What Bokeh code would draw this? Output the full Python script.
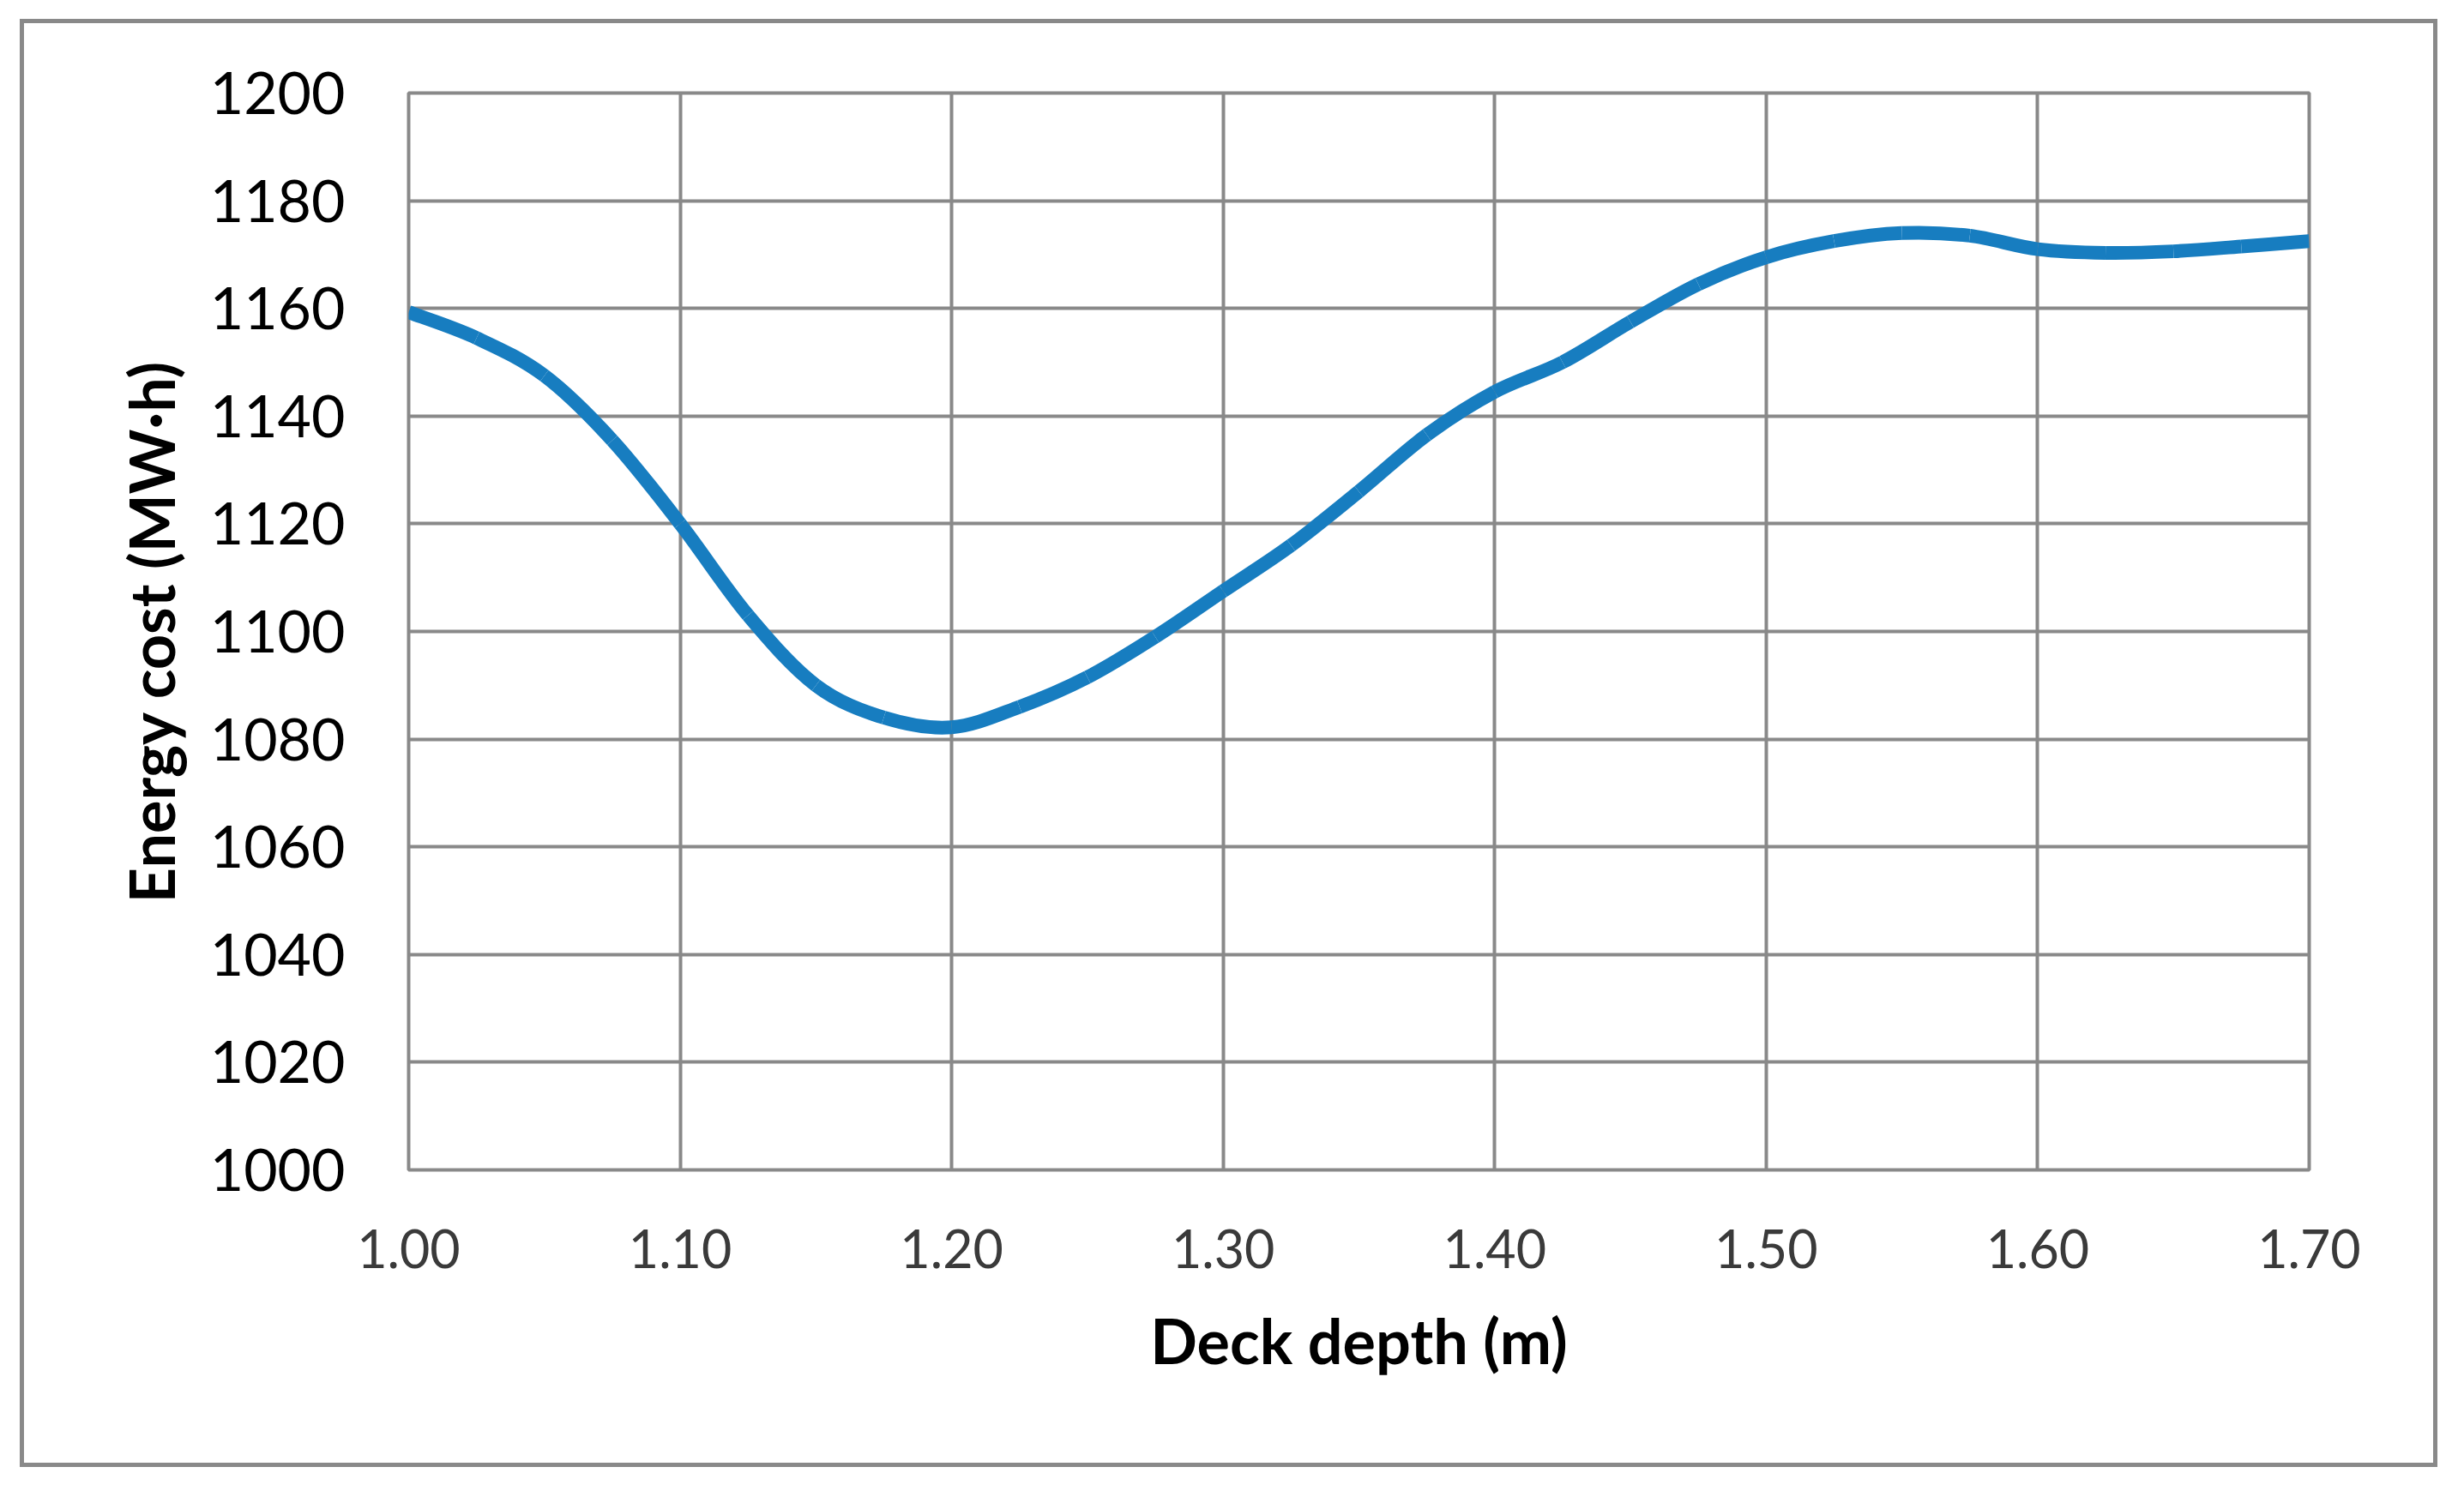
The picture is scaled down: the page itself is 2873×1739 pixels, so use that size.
from bokeh.plotting import figure
from bokeh.models import FixedTicker, NumeralTickFormatter, ColumnDataSource
from bokeh.embed import file_html
from bokeh.resources import INLINE

# ---- data ----
deck_depth = [1.000, 1.025, 1.050, 1.075, 1.100, 1.125, 1.150, 1.175, 1.200,
              1.225, 1.250, 1.275, 1.300, 1.325, 1.350, 1.375, 1.400, 1.425,
              1.450, 1.475, 1.500, 1.525, 1.550, 1.575, 1.600, 1.625, 1.650,
              1.675, 1.700]
energy_cost = [1159.3, 1154.5, 1147.5, 1135.5, 1120.0, 1103.0, 1090.0, 1084.0, 1082.2,
               1086.0, 1091.5, 1099.0, 1107.5, 1116.0, 1126.0, 1136.5, 1144.5, 1150.0,
               1157.5, 1164.5, 1169.5, 1172.5, 1174.0, 1173.5, 1171.0, 1170.3, 1170.6,
               1171.5, 1172.5]

x_ticks = [1.0, 1.1, 1.2, 1.3, 1.4, 1.5, 1.6, 1.7]
y_ticks = [1000, 1020, 1040, 1060, 1080, 1100, 1120, 1140, 1160, 1180, 1200]

x_title = "Deck depth (m)"
y_title = "Energy cost (MW·h)"

GRID = "#898989"
BLUE = "#177DC0"
FONT = "Lato"

W, H = 2809, 1679

p = figure(width=W, height=H, output_backend="svg", toolbar_location=None,
           x_range=(1.0, 1.7), y_range=(1000, 1200),
           min_border_left=448, min_border_right=145,
           min_border_top=81, min_border_bottom=342,
           margin=(27, 0, 0, 28),
           styles={"outline": "5px solid #898989"})

p.background_fill_color = "white"
p.border_fill_color = "white"
p.outline_line_color = GRID
p.outline_line_width = 4

# smooth (Excel-style) line: Catmull-Rom segments rendered as cubic Beziers
n = len(deck_depth)
x0, y0, x1, y1, cx0, cy0, cx1, cy1 = [], [], [], [], [], [], [], []
for i in range(n - 1):
    pa = i - 1 if i > 0 else i
    pd = i + 2 if i + 2 < n else i + 1
    xa, ya = deck_depth[pa], energy_cost[pa]
    xb, yb = deck_depth[i], energy_cost[i]
    xc, yc = deck_depth[i + 1], energy_cost[i + 1]
    xd, yd = deck_depth[pd], energy_cost[pd]
    x0.append(xb); y0.append(yb); x1.append(xc); y1.append(yc)
    cx0.append(xb + (xc - xa) / 6.0); cy0.append(yb + (yc - ya) / 6.0)
    cx1.append(xc - (xd - xb) / 6.0); cy1.append(yc - (yd - yb) / 6.0)

src = ColumnDataSource(dict(x0=x0, y0=y0, x1=x1, y1=y1,
                            cx0=cx0, cy0=cy0, cx1=cx1, cy1=cy1))
p.bezier(x0="x0", y0="y0", x1="x1", y1="y1", cx0="cx0", cy0="cy0",
         cx1="cx1", cy1="cy1", source=src, line_color=BLUE, line_width=16,
         line_cap="butt")

# axes
p.xaxis.ticker = FixedTicker(ticks=x_ticks)
p.yaxis.ticker = FixedTicker(ticks=y_ticks)
p.xaxis.formatter = NumeralTickFormatter(format="0.00")
p.yaxis.formatter = NumeralTickFormatter(format="0")

for ax in (p.xaxis, p.yaxis):
    ax.axis_line_color = None
    ax.major_tick_line_color = None
    ax.minor_tick_line_color = None
    ax.major_tick_out = 0
    ax.major_tick_in = 0
    ax.major_label_text_font = FONT
    ax.axis_label_text_font = FONT
    ax.axis_label_text_font_style = "bold"
    ax.axis_label_text_color = "black"
    ax.axis_label_text_font_size = "72px"

p.yaxis.major_label_text_font_size = "68px"
p.yaxis.major_label_text_color = "black"
p.yaxis.major_label_standoff = 74
p.yaxis.axis_label = y_title
p.yaxis.axis_label_standoff = 23

p.xaxis.major_label_text_font_size = "61px"
p.xaxis.major_label_text_color = "#3a3a3a"
p.xaxis.major_label_standoff = 69
p.xaxis.axis_label = x_title
p.xaxis.axis_label_standoff = 38

p.xgrid.ticker = FixedTicker(ticks=x_ticks)
p.ygrid.ticker = FixedTicker(ticks=y_ticks)
p.xgrid.grid_line_color = GRID
p.ygrid.grid_line_color = GRID
p.xgrid.grid_line_width = 4
p.ygrid.grid_line_width = 4

open("out.html", "w").write(file_html(p, INLINE))
